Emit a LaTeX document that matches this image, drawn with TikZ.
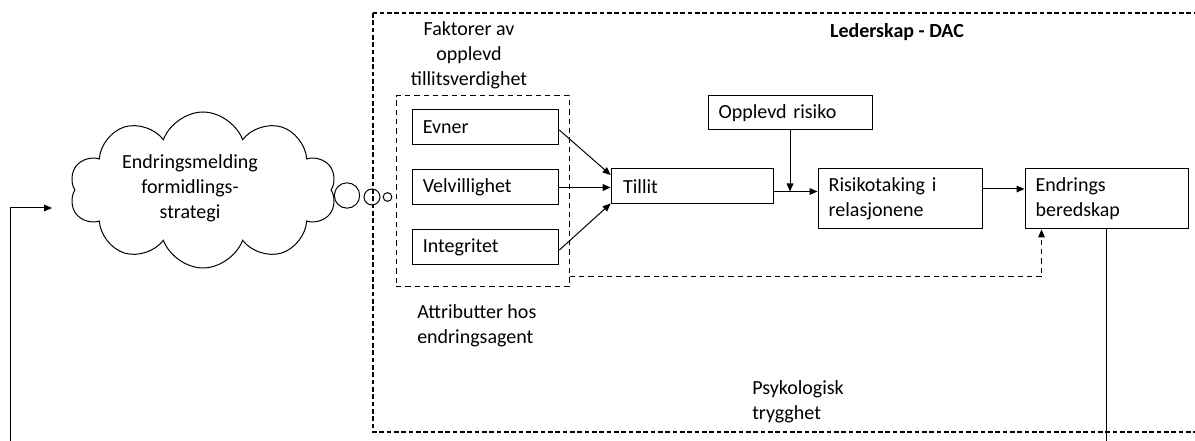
\documentclass[tikz,border=0pt]{standalone}
\usepackage{fontspec}
\setmainfont{Carlito}
\usetikzlibrary{arrows.meta,shapes.symbols}
\newcommand{\fs}{\fontsize{15}{18.75}\selectfont}
\begin{document}
\begin{tikzpicture}[x=0.75pt,y=-0.75pt,
  box/.style={draw, line width=0.75pt, inner xsep=8pt, inner ysep=0pt, align=left, font=\fs},
  lbl/.style={font=\fs, inner sep=0pt},
  arr/.style={line width=0.75pt, -{Triangle[length=6pt,width=5pt]}},
  plain/.style={line width=0.75pt},
  outerdash/.style={line width=1.3pt, dash pattern=on 3.5pt off 2pt},
  innerdash/.style={draw, line width=0.75pt, dash pattern=on 4pt off 3pt}]
\useasboundingbox (0,0) rectangle (1195,441);
\clip (0,0) rectangle (1195,441);

% outer dashed frame
\draw[outerdash] (373,13) rectangle (1210,432);

% cloud and thought bubbles
\node[cloud, draw, line width=0.75pt, cloud puffs=10, cloud puff arc=140, cloud ignores aspect,
      minimum width=200pt, minimum height=117pt] (cloud) at (203,190) {};
\node[lbl, align=center] (cloudtxt) at (190,188) {Endringsmelding\\formidlings-\\strategi};
\node[draw, circle, line width=0.75pt, minimum size=19pt, inner sep=0pt] (b1) at (347,195.5) {};
\node[draw, circle, line width=0.75pt, minimum size=12pt, inner sep=0pt] (b2) at (372,197) {};
\node[draw, circle, line width=0.75pt, minimum size=6.5pt, inner sep=0pt] (b3) at (387.5,197) {};

% titles
\node[lbl, font=\fs\bfseries] (led) at (897,32) {Lederskap - DAC};
\node[lbl, align=center] (fakt) at (469,55) {Faktorer av\\opplevd\\tillitsverdighet};
\node[lbl, align=left, anchor=west] (attr) at (417,325.5) {Attributter hos\\endringsagent};
\node[lbl, align=left, anchor=west] (psyk) at (752,401.5) {Psykologisk\\trygghet};

% inner dashed group
\node[innerdash, minimum width=129.75pt, minimum height=143.25pt, inner sep=0pt] (fak) at (482.5,191.5) {};

% boxes
\node[box, text width=94pt, minimum height=26.25pt] (evner) at (485.5,127.5) {Evner};
\node[box, text width=94pt, minimum height=26.25pt] (velv) at (485.5,187.5) {Velvillighet};
\node[box, text width=94pt, minimum height=26.25pt] (integ) at (485.5,247.5) {Integritet};
\node[box, text width=104pt, inner xsep=9pt, minimum height=26.25pt] (tillit) at (692.5,186.5) {Tillit};
\node[box, text width=107pt, minimum height=25.5pt] (opp) at (790,113) {Opplevd risiko};
\node[box, text width=107pt, minimum height=45pt] (risiko) at (900,199) {Risikotaking i\\relasjonene};
\node[box, text width=106.25pt, minimum height=45pt] (endr) at (1106.5,199) {Endrings\\beredskap};

% connectors
\draw[arr] ([yshift=-1.9pt]evner.east) -- ([yshift=8.6pt]tillit.west);
\draw[arr] (velv.east) -- (velv.east -| tillit.west);
\draw[arr] ([yshift=-1.9pt]integ.east) -- ([yshift=-12.8pt]tillit.west);

\coordinate (tA) at ([yshift=-3.75pt]tillit.east);
\draw[arr] (tA) -- (tA -| risiko.west);
\draw[arr] (opp.south) -- (opp.south |- tA);

\coordinate (rA) at ([yshift=7.5pt]risiko.east);
\draw[arr] (rA) -- (rA -| endr.west);

\coordinate (dA) at ([yshift=-64.1pt]fak.east);
\coordinate (dB) at ([xshift=12.75pt]endr.south west);
\draw[line width=0.75pt, dash pattern=on 4pt off 3pt, -{Triangle[length=6pt,width=5pt]}] (dA) -| (dB);

\coordinate (botR) at (1107,450);
\draw[plain] (endr.south) -- (endr.south |- botR);

\coordinate (botL) at (10,450);
\coordinate (cl) at (52,208);
\draw[arr] (botL) |- (cl);
\end{tikzpicture}
\end{document}
